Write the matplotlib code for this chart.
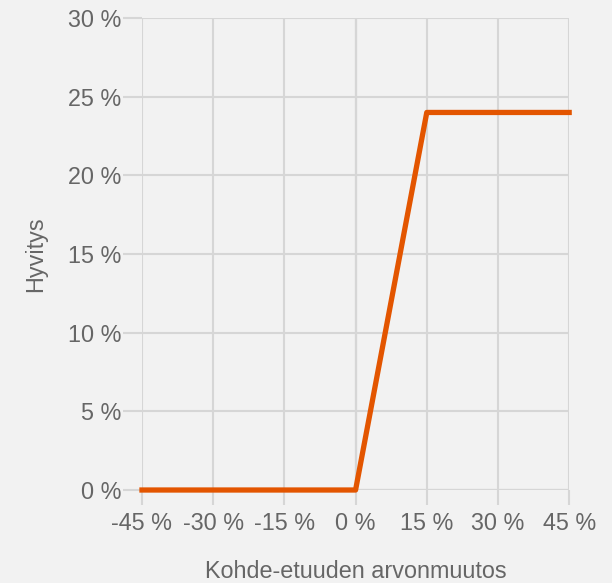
import matplotlib
matplotlib.use("Agg")
import matplotlib.pyplot as plt

x_vals = [-45, 0, 15, 45]
y_vals = [0, 0, 24, 24]
x_ticks = [-45, -30, -15, 0, 15, 30, 45]
y_ticks = [0, 5, 10, 15, 20, 25, 30]

plt.rcParams['font.family'] = ['Liberation Sans', 'DejaVu Sans']
bg = '#f2f2f2'
fig = plt.figure(figsize=(6.12, 5.83), dpi=100, facecolor=bg)
ax = fig.add_axes([0.232, 0.1595, 0.698, 0.8095], facecolor=bg)

ax.set_xlim(-45, 45)
ax.set_ylim(0, 30)
ax.set_xticks(x_ticks)
ax.set_yticks(y_ticks)
ax.set_xticklabels([f"{v} %" for v in x_ticks])
ax.set_yticklabels([f"{v} %" for v in y_ticks])
for s in ax.spines.values():
    s.set_visible(False)
ax.grid(True, color='#d6d6d6', linewidth=1.5, zorder=0)
ax.tick_params(axis='both', colors='#d6d6d6', width=1.5, labelcolor='#666666', labelsize=16.8)
ax.tick_params(axis='y', length=14, pad=1)
ax.tick_params(axis='x', length=11, pad=5)
ax.axvline(0, color='#b5b5b5', linewidth=1.5, zorder=1)
ax.axhline(0, color='#b5b5b5', linewidth=1.5, zorder=1)

ax.plot(x_vals, y_vals, color='#e35500', linewidth=3.8, solid_joinstyle='round', clip_on=False, zorder=3)

ax.set_ylabel('Hyvitys', color='#666666', fontsize=16.8, labelpad=15)
ax.set_xlabel('Kohde-etuuden arvonmuutos', color='#666666', fontsize=16.8, labelpad=18)

fig.savefig('out.png', dpi=100, facecolor=bg)
